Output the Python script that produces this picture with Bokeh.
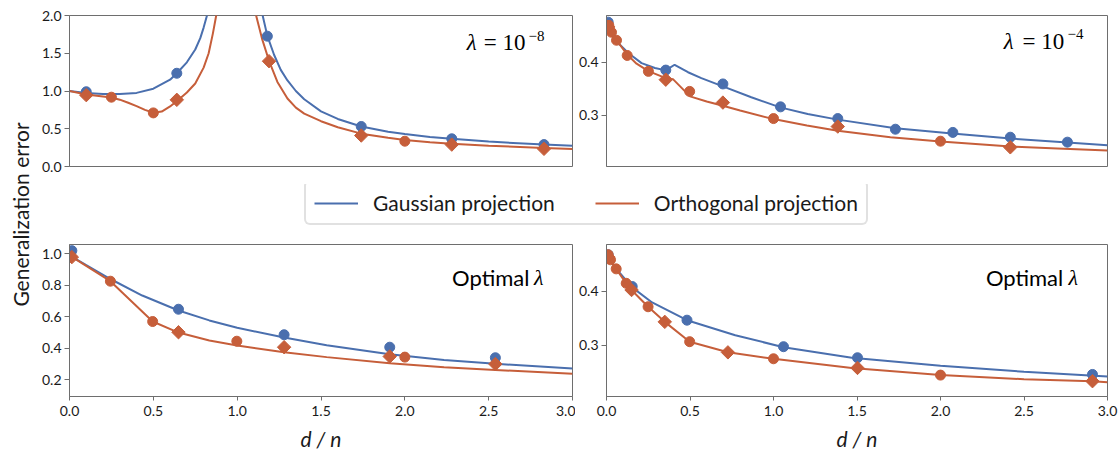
from bokeh.plotting import figure
from bokeh.layouts import row, column
from bokeh.models import Range1d, FixedTicker, Label, Legend, LegendItem, PrintfTickFormatter
from bokeh.embed import file_html
from bokeh.resources import INLINE

# ---------------- data ----------------
# Top-left: lambda = 1e-8
tl_gauss_left_x = [0.0, 0.1, 0.2, 0.3, 0.4, 0.5, 0.6, 0.64, 0.7, 0.75, 0.78, 0.8, 0.82, 0.85]
tl_gauss_left_y = [1.0, 0.975, 0.96, 0.96, 0.975, 1.03, 1.15, 1.235, 1.38, 1.55, 1.70, 1.84, 2.0, 2.3]
tl_gauss_right_x = [1.14, 1.152, 1.18, 1.22, 1.26, 1.3, 1.35, 1.4, 1.5, 1.6, 1.74, 1.9, 2.0, 2.15, 2.28,
                    2.5, 2.83, 3.0]
tl_gauss_right_y = [2.25, 2.0, 1.73, 1.48, 1.28, 1.14, 1.0, 0.89, 0.73, 0.63, 0.53, 0.46, 0.43, 0.39, 0.367,
                    0.33, 0.29, 0.275]
tl_orth_left_x = [0.0, 0.1, 0.25, 0.3, 0.35, 0.4, 0.45, 0.5, 0.55, 0.6, 0.65, 0.7, 0.75, 0.8, 0.83, 0.855,
                  0.875, 0.9]
tl_orth_left_y = [1.0, 0.955, 0.915, 0.885, 0.845, 0.8, 0.75, 0.712, 0.728, 0.795, 0.885, 0.98, 1.1, 1.31,
                  1.5, 1.76, 2.0, 2.5]
tl_orth_right_x = [1.1, 1.113, 1.15, 1.19, 1.24, 1.3, 1.35, 1.4, 1.5, 1.6, 1.74, 1.9, 2.0, 2.15, 2.28, 2.5,
                   2.83, 3.0]
tl_orth_right_y = [2.3, 2.0, 1.68, 1.40, 1.12, 0.90, 0.78, 0.70, 0.60, 0.52, 0.435, 0.38, 0.35, 0.32, 0.30,
                   0.275, 0.245, 0.232]
tl_gauss_pts_x = [0.1, 0.64, 1.18, 1.74, 2.28, 2.83]
tl_gauss_pts_y = [0.99, 1.235, 1.726, 0.53, 0.367, 0.29]
tl_orth_circ_x = [0.25, 0.5, 2.0]
tl_orth_circ_y = [0.918, 0.71, 0.335]
tl_orth_diam_x = [0.1, 0.64, 1.19, 1.74, 2.28, 2.83]
tl_orth_diam_y = [0.945, 0.883, 1.395, 0.41, 0.29, 0.234]

# Top-right: lambda = 1e-4
tr_gauss_x = [0.0, 0.03, 0.07, 0.13, 0.21, 0.29, 0.355, 0.378, 0.408, 0.488, 0.568, 0.697, 0.867,
              1.04, 1.205, 1.385, 1.73, 2.07, 2.42, 2.76, 3.0]
tr_gauss_y = [0.478, 0.452, 0.436, 0.417, 0.398, 0.389, 0.3845, 0.389, 0.395, 0.381, 0.370, 0.3545, 0.334,
              0.315, 0.3025, 0.292, 0.276, 0.266, 0.2565, 0.249, 0.244]
tr_orth_x = [0.0, 0.03, 0.06, 0.124, 0.18, 0.251, 0.355, 0.398, 0.5, 0.6, 0.697, 0.8, 1.0, 1.2, 1.385,
             1.7, 2.0, 2.42, 2.7, 3.0]
tr_orth_y = [0.474, 0.455, 0.441, 0.414, 0.397, 0.383, 0.37, 0.368, 0.3357, 0.326, 0.318, 0.309, 0.293,
             0.281, 0.2713, 0.259, 0.251, 0.2415, 0.238, 0.234]
tr_gauss_pts_x = [0.01, 0.355, 0.697, 1.042, 1.385, 1.73, 2.074, 2.418, 2.76]
tr_gauss_pts_y = [0.475, 0.385, 0.359, 0.316, 0.294, 0.274, 0.268, 0.259, 0.2497]
tr_orth_circ_x = [0.014, 0.03, 0.06, 0.124, 0.251, 0.498, 1.0, 2.0]
tr_orth_circ_y = [0.469, 0.456, 0.441, 0.4125, 0.3826, 0.345, 0.294, 0.2515]
tr_orth_diam_x = [0.01, 0.355, 0.697, 1.385, 2.418]
tr_orth_diam_y = [0.466, 0.367, 0.324, 0.279, 0.240]

# Bottom-left: optimal lambda
bl_gauss_x = [0.0, 0.1, 0.244, 0.434, 0.65, 0.834, 1.0, 1.28, 1.534, 1.91, 2.234, 2.54, 3.0]
bl_gauss_y = [0.99, 0.928, 0.84, 0.735, 0.64, 0.577, 0.53, 0.468, 0.42, 0.362, 0.326, 0.302, 0.272]
bl_orth_x = [0.0, 0.244, 0.496, 0.65, 0.834, 1.0, 1.28, 1.534, 1.91, 2.234, 2.54, 3.0]
bl_orth_y = [0.99, 0.826, 0.57, 0.50, 0.45, 0.418, 0.375, 0.344, 0.305, 0.28, 0.263, 0.238]
bl_gauss_pts_x = [0.014, 0.65, 1.28, 1.91, 2.54]
bl_gauss_pts_y = [1.02, 0.648, 0.486, 0.407, 0.34]
bl_orth_circ_x = [0.244, 0.496, 0.998, 2.0]
bl_orth_circ_y = [0.826, 0.57, 0.445, 0.344]
bl_orth_diam_x = [0.014, 0.65, 1.28, 1.91, 2.54]
bl_orth_diam_y = [0.979, 0.502, 0.407, 0.348, 0.30]

# Bottom-right: optimal lambda
br_gauss_x = [0.0, 0.05, 0.154, 0.273, 0.482, 0.771, 1.06, 1.469, 2.0, 2.5, 3.0]
br_gauss_y = [0.47, 0.445, 0.4075, 0.3795, 0.3466, 0.3187, 0.2965, 0.277, 0.262, 0.251, 0.242]
br_orth_x = [0.0, 0.01, 0.024, 0.058, 0.118, 0.15, 0.249, 0.349, 0.498, 0.727, 1.0, 1.469, 2.0, 2.5, 2.91, 3.0]
br_orth_y = [0.472, 0.468, 0.4586, 0.4418, 0.415, 0.4026, 0.3715, 0.3435, 0.3067, 0.287, 0.275, 0.258,
             0.2447, 0.237, 0.2334, 0.2315]
br_gauss_pts_x = [0.01, 0.154, 0.482, 1.06, 1.503, 2.91]
br_gauss_pts_y = [0.468, 0.409, 0.3466, 0.2974, 0.2769, 0.2459]
br_orth_circ_x = [0.01, 0.024, 0.058, 0.118, 0.249, 0.498, 1.0, 2.0]
br_orth_circ_y = [0.468, 0.4586, 0.4418, 0.415, 0.3715, 0.3067, 0.275, 0.2447]
br_orth_diam_x = [0.01, 0.15, 0.349, 0.727, 1.503, 2.91]
br_orth_diam_y = [0.464, 0.4026, 0.3435, 0.2869, 0.258, 0.2334]

legend_labels = ["Gaussian projection", "Orthogonal projection"]
y_label = "Generalization error"
x_label = "d / n"
tl_ticks = [0.0, 0.5, 1.0, 1.5, 2.0]
tr_ticks = [0.3, 0.4]
bl_ticks = [0.2, 0.4, 0.6, 0.8, 1.0]
x_ticks = [0.0, 0.5, 1.0, 1.5, 2.0, 2.5, 3.0]

# ---------------- style ----------------
BLUE = "#4A6FAE"
ORANGE = "#C65E3A"
AXC = "#6e6e6e"
TXT = "#1a1a1a"
SANS = "Lato"
SERIF = "Liberation Serif"


def panel(width, height, ml, mr, mt, mb, yr, yticks, xaxis):
    p = figure(width=width, height=height, x_range=Range1d(0, 3), y_range=Range1d(*yr),
               output_backend="svg", toolbar_location=None,
               x_axis_location="below" if xaxis else None,
               min_border_left=ml, min_border_right=mr, min_border_top=mt, min_border_bottom=mb)
    p.grid.visible = False
    p.outline_line_color = AXC
    p.outline_line_width = 1
    p.background_fill_color = "white"
    p.border_fill_color = "white"
    ya = p.yaxis[0]
    ya.ticker = FixedTicker(ticks=yticks)
    ya.formatter = PrintfTickFormatter(format="%.1f")
    ya.minor_tick_line_color = None
    ya.major_tick_out = 5
    ya.major_tick_in = 0
    ya.axis_line_color = AXC
    ya.major_tick_line_color = AXC
    ya.major_label_text_font = SANS
    ya.major_label_text_font_size = "14px"
    ya.major_label_text_color = TXT
    ya.major_label_standoff = 3
    if xaxis:
        xa = p.xaxis[0]
        xa.ticker = FixedTicker(ticks=x_ticks)
        xa.formatter = PrintfTickFormatter(format="%.1f")
        xa.minor_tick_line_color = None
        xa.major_tick_out = 4
        xa.major_tick_in = 0
        xa.axis_line_color = AXC
        xa.major_tick_line_color = AXC
        xa.major_label_text_font = SANS
        xa.major_label_text_font_size = "14px"
        xa.major_label_text_color = TXT
        xa.major_label_standoff = 5
        xa.axis_label = x_label
        xa.axis_label_text_font = SANS
        xa.axis_label_text_font_style = "italic"
        xa.axis_label_text_font_size = "21px"
        xa.axis_label_text_color = TXT
        xa.axis_label_standoff = 7
    return p


def draw(p, gx_list, gy_list, ox_list, oy_list, gpx, gpy, ocx, ocy, odx, ody):
    for gx, gy in zip(gx_list, gy_list):
        p.line(gx, gy, line_color=BLUE, line_width=2)
    for ox, oy in zip(ox_list, oy_list):
        p.line(ox, oy, line_color=ORANGE, line_width=2)
    p.scatter(gpx, gpy, marker="circle", size=10, fill_color=BLUE, line_color=BLUE)
    p.scatter(ocx, ocy, marker="circle", size=10, fill_color=ORANGE, line_color=ORANGE)
    p.scatter(odx, ody, marker="square", angle=0.7854, size=9.5, fill_color=ORANGE, line_color=ORANGE)


def lam_label(p, x_lam, x_eq, x_sup, y, y_sup, sup):
    p.add_layout(Label(x=x_lam, y=y, text="λ", text_align="right", text_baseline="alphabetic",
                       text_font=SERIF, text_font_style="italic", text_font_size="23px", text_color="black"))
    p.add_layout(Label(x=x_eq, y=y, text="= 10", text_align="right", text_baseline="alphabetic",
                       text_font=SERIF, text_font_size="23px", text_color="black"))
    p.add_layout(Label(x=x_sup, y=y_sup, text=sup, text_align="left", text_baseline="alphabetic",
                       text_font=SERIF, text_font_size="15px", text_color="black"))


def opt_label(p, x_word, x_lam, y):
    p.add_layout(Label(x=x_word, y=y, text="Optimal", text_align="right", text_baseline="alphabetic",
                       text_font=SANS, text_font_size="22px", text_color="black"))
    p.add_layout(Label(x=x_lam, y=y, text="λ", text_align="left", text_baseline="alphabetic",
                       text_font=SERIF, text_font_style="italic", text_font_size="22px", text_color="black"))


W_LAB = 34
W_L, W_R = 541, 545
H_TOP, H_LEG, H_BOT = 184, 50, 221
tl = panel(W_L, H_TOP, 35, 3, 15, 18, (0.0, 2.0), tl_ticks, False)
tr = panel(W_R, H_TOP, 30, 13, 15, 18, (0.204, 0.4875), tr_ticks, False)
bl = panel(W_L, H_BOT, 35, 3, 10, 59, (0.094, 1.059), bl_ticks, True)
br = panel(W_R, H_BOT, 30, 13, 10, 59, (0.205, 0.487), tr_ticks, True)

draw(tl, [tl_gauss_left_x, tl_gauss_right_x], [tl_gauss_left_y, tl_gauss_right_y],
     [tl_orth_left_x, tl_orth_right_x], [tl_orth_left_y, tl_orth_right_y],
     tl_gauss_pts_x, tl_gauss_pts_y, tl_orth_circ_x, tl_orth_circ_y, tl_orth_diam_x, tl_orth_diam_y)
draw(tr, [tr_gauss_x], [tr_gauss_y], [tr_orth_x], [tr_orth_y],
     tr_gauss_pts_x, tr_gauss_pts_y, tr_orth_circ_x, tr_orth_circ_y, tr_orth_diam_x, tr_orth_diam_y)
draw(bl, [bl_gauss_x], [bl_gauss_y], [bl_orth_x], [bl_orth_y],
     bl_gauss_pts_x, bl_gauss_pts_y, bl_orth_circ_x, bl_orth_circ_y, bl_orth_diam_x, bl_orth_diam_y)
draw(br, [br_gauss_x], [br_gauss_y], [br_orth_x], [br_orth_y],
     br_gauss_pts_x, br_gauss_pts_y, br_orth_circ_x, br_orth_circ_y, br_orth_diam_x, br_orth_diam_y)

# panel annotations
lam_label(tl, 2.428, 2.72, 2.738, 1.646, 1.735, "−8")
lam_label(tr, 2.438, 2.741, 2.76, 0.4388, 0.452, "−4")
opt_label(bl, 2.743, 2.771, 0.848)
opt_label(br, 2.735, 2.766, 0.426)

# legend strip
NAN = float("nan")
leg = figure(width=W_L + W_R, height=H_LEG, x_range=Range1d(0, 1), y_range=Range1d(0, 1),
             x_axis_location=None, y_axis_location=None, toolbar_location=None,
             output_backend="svg", min_border=0)
leg.outline_line_color = None
leg.grid.visible = False
r1 = leg.line(x=[NAN], y=[NAN], line_color=BLUE, line_width=2)
r2 = leg.line(x=[NAN], y=[NAN], line_color=ORANGE, line_width=2)
legend = Legend(items=[LegendItem(label=legend_labels[0], renderers=[r1]),
                       LegendItem(label=legend_labels[1], renderers=[r2])],
                orientation="horizontal", location=(270, 9), glyph_width=44, glyph_height=20,
                label_standoff=15, spacing=40, padding=8, margin=0,
                border_line_color="#c4c4c4", border_line_width=2,
                label_text_font=SANS, label_text_font_size="21px", label_text_color=TXT)
if "border_radius" in Legend.properties():
    legend.border_radius = 6
leg.add_layout(legend, "center")

# shared y label strip
lab = figure(width=W_LAB, height=H_TOP + H_LEG + H_BOT, x_range=Range1d(0, W_LAB),
             y_range=Range1d(0, H_TOP + H_LEG + H_BOT),
             x_axis_location=None, y_axis_location=None, toolbar_location=None,
             output_backend="svg", min_border=0)
lab.outline_line_color = None
lab.grid.visible = False
lab.add_layout(Label(x=20, y=241, text=y_label, angle=90, angle_units="deg",
                     text_align="center", text_baseline="middle",
                     text_font=SANS, text_font_size="21px", text_color=TXT))

layout = row(lab, column(row(tl, tr), leg, row(bl, br)))
open("out.html", "w").write(file_html(layout, INLINE))
